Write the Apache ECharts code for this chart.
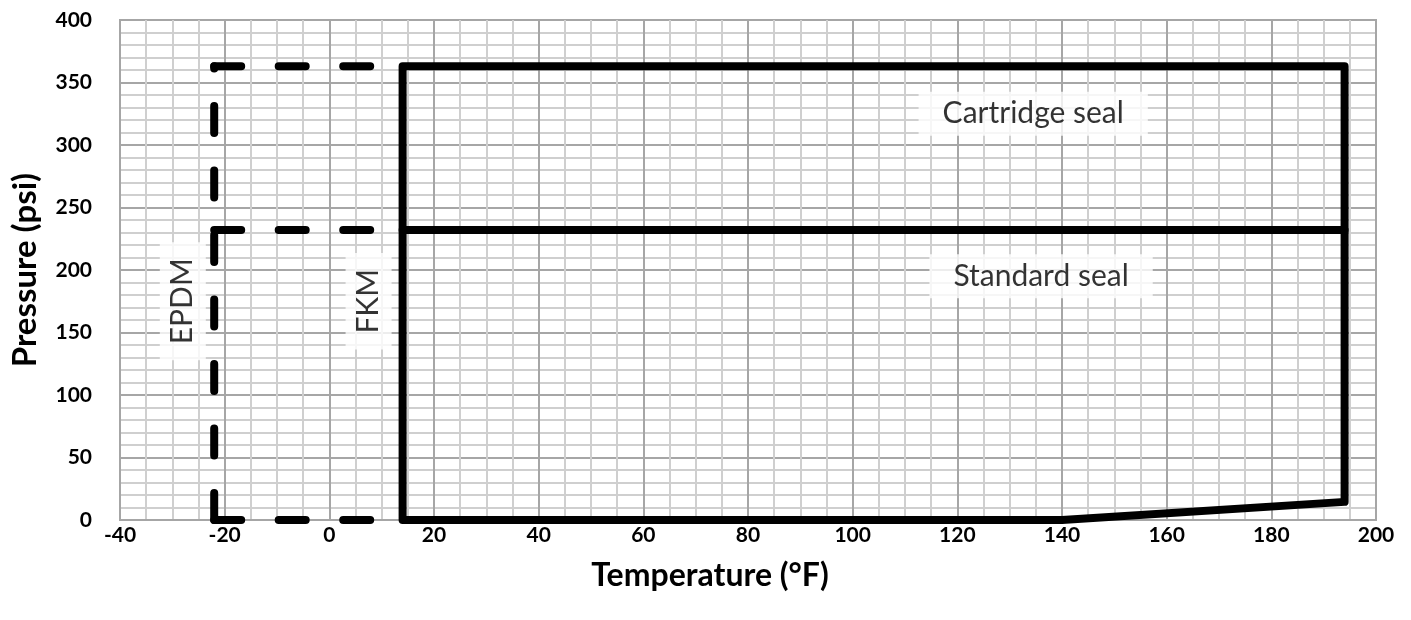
<!DOCTYPE html>
<html><head><meta charset="utf-8">
<script src="https://cdn.jsdelivr.net/npm/echarts@6/dist/echarts.min.js"></script>
<style>html,body{margin:0;padding:0;background:#fff}#c{width:1411px;height:620px}</style>
</head><body><div id="c"></div>
<script>
// Solid envelope (FKM / standard & cartridge seals)
const solidOuter = [[14,0],[14,363],[194,363],[194,14.5],[140,0],[14,0]];
const solidMid = [[14,232],[194,232]];
// Dashed EPDM extension
const dashVert = [[-22,0],[-22,363]];
const dashTop = [[-22,363],[8.6,363]];
const dashMid = [[-22,232],[8.6,232]];
const dashBot = [[-22,0],[8.6,0]];
// Annotations
const labelNames = ['Cartridge seal','Standard seal','EPDM','FKM'];
const labelX = [134.5, 136, -28, 7.5];
const labelY = [325, 195, 175, 175];
const labelRot = [0, 0, 90, 90];

const font = 'Lato, "Open Sans", sans-serif';
const chart = echarts.init(document.getElementById('c'), null, {renderer:'canvas'});

const solidStyle = {color:'#000', width:8, join:'round', cap:'round'};
const dashStyle = {color:'#000', width:8, type:[27,37.5], cap:'round', join:'round'};
function lineSeries(data, style){
  return {type:'line', data, showSymbol:false, symbol:'none', lineStyle:style, silent:true, animation:false, z:3};
}

chart.setOption({
  animation:false,
  grid:{left:120, right:35, top:20, bottom:100, show:true, borderColor:'#a6a6a6', borderWidth:2},
  xAxis:{type:'value', min:-40, max:200, interval:20,
    name:'Temperature (°F)', nameLocation:'middle', nameGap:40,
    nameTextStyle:{fontFamily:font, fontWeight:'bold', fontSize:32, color:'#000', padding:[0,76,0,0]},
    axisLine:{show:true, lineStyle:{color:'#a6a6a6', width:2}}, axisTick:{show:false},
    axisLabel:{fontFamily:font, fontWeight:'bold', fontSize:21, color:'#000', margin:5},
    splitLine:{show:true, lineStyle:{color:'#a6a6a6', width:2}},
    minorTick:{show:false, splitNumber:4},
    minorSplitLine:{show:true, lineStyle:{color:'#cfcfcf', width:2}}
  },
  yAxis:{type:'value', min:0, max:400, interval:50,
    name:'Pressure (psi)', nameLocation:'middle', nameGap:78,
    nameTextStyle:{fontFamily:font, fontWeight:'bold', fontSize:33, color:'#000'},
    axisLine:{show:true, lineStyle:{color:'#a6a6a6', width:2}}, axisTick:{show:false},
    axisLabel:{fontFamily:font, fontWeight:'bold', fontSize:21, color:'#000', margin:28},
    splitLine:{show:true, lineStyle:{color:'#a6a6a6', width:2}},
    minorTick:{show:false, splitNumber:5},
    minorSplitLine:{show:true, lineStyle:{color:'#cfcfcf', width:2}}
  },
  series:[
    lineSeries(solidOuter, solidStyle),
    lineSeries(solidMid, solidStyle),
    lineSeries(dashVert, dashStyle),
    lineSeries(dashTop, dashStyle),
    lineSeries(dashMid, dashStyle),
    lineSeries(dashBot, dashStyle),
    {type:'scatter', symbolSize:0, silent:true, z:4,
      data: labelNames.map((n,i)=>({name:n, value:[labelX[i], labelY[i]],
        label:{show:true, position:'inside', formatter:'{b}', rotate:labelRot[i],
          fontFamily:font, fontSize:30, color:'#000', backgroundColor:'#fff',
          padding: labelRot[i] ? [8,16] : [7,24]}}))
    }
  ]
});
</script></body></html>
